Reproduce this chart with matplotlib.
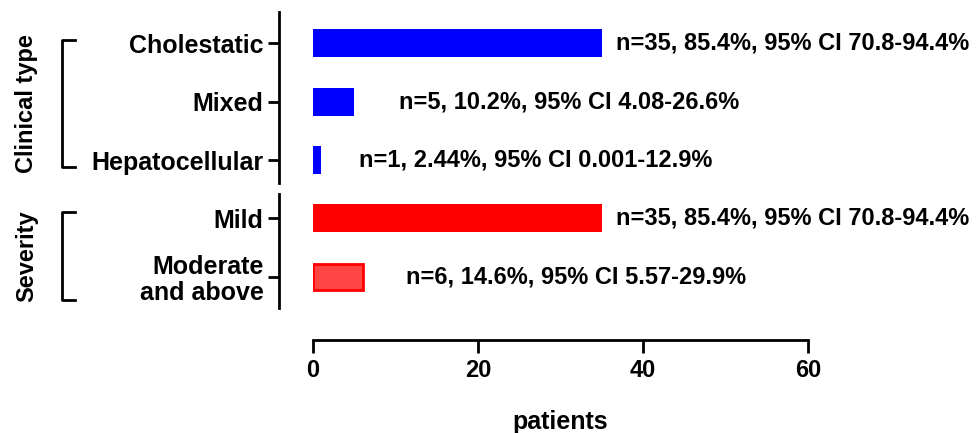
import matplotlib.pyplot as plt
from matplotlib.lines import Line2D

plt.rcParams['font.family'] = ['Liberation Sans', 'DejaVu Sans']
plt.rcParams['font.weight'] = 'bold'
plt.rcParams['axes.labelweight'] = 'bold'
plt.rcParams['font.size'] = 17

# data
type_labels = ['Cholestatic', 'Mixed', 'Hepatocellular']
type_counts = [35, 5, 1]
type_notes = ['n=35, 85.4%, 95% CI 70.8-94.4%',
              'n=5, 10.2%, 95% CI 4.08-26.6%',
              'n=1, 2.44%, 95% CI 0.001-12.9%']
sev_labels = ['Mild', 'Moderate\nand above']
sev_counts = [35, 6]
sev_notes = ['n=35, 85.4%, 95% CI 70.8-94.4%',
             'n=6, 14.6%, 95% CI 5.57-29.9%']
type_pad = [10, 32, 27]   # gap between bar end and note, points
sev_pad = [10, 31]

fig = plt.figure(figsize=(9.76, 4.33), dpi=100)
ax1 = fig.add_axes([0.3207, 0.5774, 0.5072, 0.3949])
ax2 = fig.add_axes([0.3207, 0.2887, 0.5072, 0.2633])

lw = 2.0


def style(ax, show_x):
    ax.set_xlim(0, 60)
    for s in ['top', 'right']:
        ax.spines[s].set_visible(False)
    ax.spines['left'].set_position(('outward', 24.5))
    ax.spines['left'].set_linewidth(lw)
    ax.tick_params(axis='y', length=8, width=lw, pad=3, labelsize=18)
    if show_x:
        ax.spines['bottom'].set_position(('outward', 23))
        ax.spines['bottom'].set_linewidth(lw)
        ax.tick_params(axis='x', length=9, width=lw, pad=5)
        ax.set_xticks([0, 20, 40, 60])
    else:
        ax.spines['bottom'].set_visible(False)
        ax.set_xticks([])


style(ax1, False)
style(ax2, True)

y1 = list(range(len(type_labels)))
ax1.barh(y1, type_counts, height=0.48, color='#0000ff')
ax1.set_ylim(2.39, -0.53)
ax1.set_yticks(y1)
ax1.set_yticklabels(type_labels)
for y, c, note, p in zip(y1, type_counts, type_notes, type_pad):
    ax1.annotate(note, (c, y), xytext=(p, 0), textcoords='offset points',
                 va='center', ha='left', annotation_clip=False)

y2 = list(range(len(sev_labels)))
ax2.barh(y2[0], sev_counts[0], height=0.48, color='#ff0000')
ax2.barh(y2[1], sev_counts[1], height=0.44, color='#ff4444',
         edgecolor='#ff0000', linewidth=2)
ax2.set_ylim(1.53, -0.41)
ax2.set_yticks(y2)
ax2.set_yticklabels(sev_labels, linespacing=1.1)
for y, c, note, p in zip(y2, sev_counts, sev_notes, sev_pad):
    ax2.annotate(note, (c, y), xytext=(p, 0), textcoords='offset points',
                 va='center', ha='left', annotation_clip=False)

ax2.set_xlabel('patients', fontsize=18, labelpad=20)

# group brackets (figure pixel coords)
W, H = 976, 433


def bracket(top, bottom, label):
    xs = [75 / W, 62 / W, 62 / W, 75 / W]
    ys = [1 - top / H, 1 - top / H, 1 - bottom / H, 1 - bottom / H]
    fig.add_artist(Line2D(xs, ys, color='black', lw=lw))
    fig.text(27 / W, 1 - (top + bottom) / 2 / H, label, rotation=90,
             ha='center', va='center')


bracket(40, 167, 'Clinical type')
bracket(212, 300, 'Severity')

fig.savefig('out.png', dpi=100)
